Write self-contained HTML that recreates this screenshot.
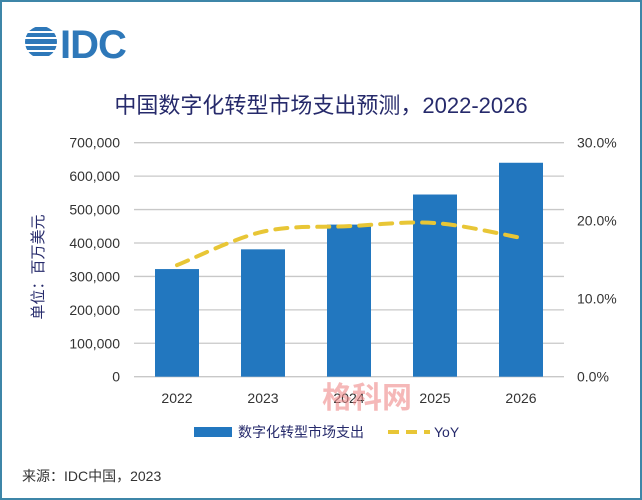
<!DOCTYPE html>
<html><head><meta charset="utf-8"><style>
html,body{margin:0;padding:0;background:#fff}
svg{display:block}
text{font-family:"Liberation Sans","Noto Sans CJK SC",sans-serif}
</style></head><body>
<svg id="chart" width="642" height="500" viewBox="0 0 642 500" xmlns="http://www.w3.org/2000/svg">
<rect x="1" y="1" width="640" height="498" fill="#fff" stroke="#3d86a8" stroke-width="2"/>
<g>
<clipPath id="gc"><circle cx="41" cy="42" r="16"/></clipPath>
<g clip-path="url(#gc)" fill="#2e78b9">
<rect x="20" y="27" width="42" height="4"/><rect x="20" y="33" width="42" height="4"/><rect x="20" y="39" width="42" height="5"/><rect x="20" y="46" width="42" height="4"/><rect x="20" y="52" width="42" height="4"/>
</g>
<text x="60" y="58" font-size="40" fill="#2e78b9" font-weight="bold" letter-spacing="-1">IDC</text>
</g>
<text x="321" y="113" text-anchor="middle" font-size="22" fill="#262a6b">中国数字化转型市场支出预测，2022-2026</text>
<text transform="translate(43,267) rotate(-90)" text-anchor="middle" font-size="15" fill="#262a6b">单位：百万美元</text>
<g id="grid"></g><g id="bars"></g><g id="line"></g><g id="labels"></g>
<text x="367" y="408" text-anchor="middle" font-size="30" font-weight="bold" fill="#f08a8a" opacity="0.6">格科网</text>
<g>
<g>
<rect x="194" y="427" width="38" height="10" fill="#2277bf"/>
<text x="238" y="437" font-size="14" fill="#262a6b">数字化转型市场支出</text></g>
<g>
<line x1="388" y1="432" x2="430" y2="432" stroke="#e8c636" stroke-width="4" stroke-dasharray="11,7"/>
<text x="434" y="437" font-size="14" fill="#262a6b">YoY</text></g>
</g>
<text x="22" y="481" font-size="14" fill="#333">来源：IDC中国，2023</text>
</svg>
<script>
const categories=["2022","2023","2024","2025","2026"];
const spending=[322000,381000,455000,545000,640000];
const yoy=[14.3,18.6,19.3,19.7,17.8];
const leftTicks=[0,100000,200000,300000,400000,500000,600000,700000];
const rightTicks=[0,10,20,30];
const NS="http://www.w3.org/2000/svg";
const x0=134,x1=564,yb=376.7,yt=142.7;
const band=(x1-x0)/categories.length;
const xc=i=>x0+band*(i+0.5);
const yL=v=>yb-(v/700000)*(yb-yt);
const yR=v=>yb-(v/30)*(yb-yt);
function mk(t,a,p){const e=document.createElementNS(NS,t);for(const k in a)e.setAttribute(k,a[k]);p.appendChild(e);return e;}
const g=document.getElementById('grid'),b=document.getElementById('bars'),l=document.getElementById('line'),lb=document.getElementById('labels');
leftTicks.forEach(v=>{
 const ln=mk('line',{x1:x0,x2:x1,y1:yL(v),y2:yL(v),stroke:'#c8c8c8','stroke-width':1.3},g);
 
 
 const t=mk('text',{x:120,y:yL(v)+5,'text-anchor':'end','font-size':14,fill:'#333'},lb);
 t.textContent=v.toLocaleString('en-US');
 
 
});
rightTicks.forEach(v=>{
 const t=mk('text',{x:577,y:yR(v)+5,'font-size':14,fill:'#333'},lb);
 t.textContent=v.toFixed(1)+'%';
 
 
});
categories.forEach((c,i)=>{
 const r=mk('rect',{x:xc(i)-22,y:yL(spending[i]),width:44,height:yb-yL(spending[i]),fill:'#2277bf'},b);
 
 
 const t=mk('text',{x:xc(i),y:403,'text-anchor':'middle','font-size':14,fill:'#333'},lb);
 t.textContent=c;
 
 
});
const pts=yoy.map((v,i)=>[xc(i),yR(v)]);
let d='M'+pts[0][0]+','+pts[0][1];
for(let i=0;i<pts.length-1;i++){
 const p0=pts[Math.max(0,i-1)],p1=pts[i],p2=pts[i+1],p3=pts[Math.min(pts.length-1,i+2)];
 const c1=[p1[0]+(p2[0]-p0[0])/6,p1[1]+(p2[1]-p0[1])/6],c2=[p2[0]-(p3[0]-p1[0])/6,p2[1]-(p3[1]-p1[1])/6];
 d+=' C'+c1+' '+c2+' '+p2;
}
const path=mk('path',{d:d,fill:'none',stroke:'#e8c636','stroke-width':4,'stroke-dasharray':'12,9','stroke-linecap':'round'},l);


</script>
</body></html>
